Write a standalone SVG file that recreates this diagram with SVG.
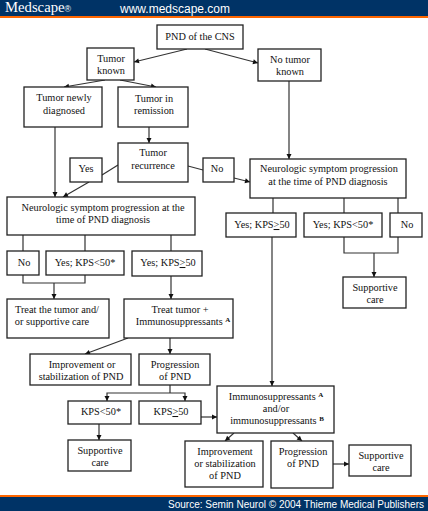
<svg xmlns="http://www.w3.org/2000/svg" width="428" height="511" viewBox="0 0 428 511">
<style>
.b{fill:#fff;stroke:#222;stroke-width:1.3}
.l{fill:none;stroke:#333;stroke-width:1.2}
.t{font-family:"Liberation Serif",serif;font-size:10.3px;fill:#111;text-anchor:middle}
.s{font-size:7px;font-weight:bold}
.w{font-family:"Liberation Sans",sans-serif;fill:#fff}
</style>
<defs><marker id="a" markerWidth="6" markerHeight="6" refX="5" refY="2.5" orient="auto" markerUnits="userSpaceOnUse" overflow="visible"><path d="M0 0L5 2.5L0 5z" fill="#111"/></marker></defs>
<rect width="428" height="511" fill="#fff"/>
<g id="header"><rect width="428" height="16" fill="#003366"/><rect y="16" width="428" height="2" fill="#ff6600"/>
<text class="w" x="5" y="12" style="font-family:'Liberation Serif',serif;font-size:15px" textLength="66" lengthAdjust="spacingAndGlyphs">Medscape<tspan font-size="9" font-family="Liberation Sans">®</tspan></text>
<text class="w" x="120" y="13" font-size="12" textLength="110" lengthAdjust="spacingAndGlyphs">www.medscape.com</text></g>
<g id="footer"><rect y="495" width="428" height="2" fill="#ff6600"/><rect y="497" width="428" height="14" fill="#003366"/>
<text class="w" x="168" y="507.5" font-size="10" textLength="256" lengthAdjust="spacingAndGlyphs">Source: Semin Neurol © 2004 Thieme Medical Publishers</text></g>
<g id="connectors">
<path class="l" marker-end="url(#a)" d="M187 49L134 62"/>
<path class="l" marker-end="url(#a)" d="M205 49L258 63"/>
<path class="l" marker-end="url(#a)" d="M105 80L64 87"/>
<path class="l" marker-end="url(#a)" d="M120 80L156 87"/>
<path class="l" marker-end="url(#a)" d="M289 81V159"/>
<path class="l" marker-end="url(#a)" d="M149 127V143"/>
<path class="l" marker-end="url(#a)" d="M55 127V197"/>
<path class="l" d="M118 165L102 175"/>
<path class="l" marker-end="url(#a)" d="M89 182L63 197"/>
<path class="l" d="M188 166L203 170"/>
<path class="l" marker-end="url(#a)" d="M234 178L250 182"/>
<path class="l" d="M23 235V251M85 235V251M171 235V251"/>
<path class="l" d="M23 275V283H85V275"/>
<path class="l" marker-end="url(#a)" d="M54 283V299"/>
<path class="l" marker-end="url(#a)" d="M171 276V299"/>
<path class="l" marker-end="url(#a)" d="M170 338V354"/>
<path class="l" marker-end="url(#a)" d="M128 338L85 354"/>
<path class="l" d="M273 198V213M344 198V213M398 198V213"/>
<path class="l" d="M344 237V253H398V237"/>
<path class="l" marker-end="url(#a)" d="M374 253V277"/>
<path class="l" marker-end="url(#a)" d="M272 237V386"/>
<path class="l" d="M170 385V393"/>
<path class="l" marker-end="url(#a)" d="M170 393H107V401"/>
<path class="l" marker-end="url(#a)" d="M170 393H185V401"/>
<path class="l" marker-end="url(#a)" d="M99 424V440"/>
<path class="l" marker-end="url(#a)" d="M201 417H217"/>
<path class="l" marker-end="url(#a)" d="M234 433L225 441"/>
<path class="l" marker-end="url(#a)" d="M293 433L302 441"/>
<path class="l" marker-end="url(#a)" d="M333 464H349"/>
</g>
<g id="n1"><rect class="b" x="157" y="25" width="86" height="24"/><text class="t" x="200" y="40">PND of the CNS</text></g>
<g id="n2"><rect class="b" x="87" y="48" width="47" height="32"/><text class="t" x="111" y="62">Tumor</text><text class="t" x="111" y="74">known</text></g>
<g id="n3"><rect class="b" x="258" y="49" width="63" height="32"/><text class="t" x="290" y="63">No tumor</text><text class="t" x="290" y="75">known</text></g>
<g id="n4"><rect class="b" x="24" y="87" width="78" height="40"/><text class="t" x="64" y="101">Tumor newly</text><text class="t" x="64" y="114">diagnosed</text></g>
<g id="n5"><rect class="b" x="118" y="87" width="70" height="40"/><text class="t" x="154" y="102">Tumor in</text><text class="t" x="154" y="114">remission</text></g>
<g id="n6"><rect class="b" x="118" y="143" width="70" height="39"/><text class="t" x="153" y="156">Tumor</text><text class="t" x="153" y="169">recurrence</text></g>
<g id="n7"><rect class="b" x="70" y="158" width="32" height="24"/><text class="t" x="86" y="172">Yes</text></g>
<g id="n8"><rect class="b" x="203" y="158" width="31" height="24"/><text class="t" x="217" y="172">No</text></g>
<g id="n9"><rect class="b" x="250" y="159" width="156" height="39"/><text class="t" x="329" y="172">Neurologic symptom progression</text><text class="t" x="328" y="185">at the time of PND diagnosis</text></g>
<g id="n10"><rect class="b" x="7" y="197" width="188" height="38"/><text class="t" x="103" y="211">Neurologic symptom progression at the</text><text class="t" x="103" y="223">time of PND diagnosis</text></g>
<g id="n11"><rect class="b" x="7" y="251" width="32" height="24"/><text class="t" x="24" y="266">No</text></g>
<g id="n12"><rect class="b" x="46" y="251" width="78" height="24"/><text class="t" x="85" y="266">Yes; KPS&lt;50*</text></g>
<g id="n13"><rect class="b" x="132" y="251" width="70" height="25"/><text class="t" x="168" y="266">Yes; KPS<tspan text-decoration="underline">&gt;</tspan>50</text></g>
<g id="n14"><rect class="b" x="7" y="299" width="102" height="39"/><text class="t" x="57" y="313">Treat the tumor and/</text><text class="t" x="52" y="325">or supportive care</text></g>
<g id="n15"><rect class="b" x="124" y="299" width="109" height="39"/><text class="t" x="180" y="313">Treat tumor +</text><text class="t" x="183" y="325">Immunosuppressants <tspan class="s" dy="-3">A</tspan></text></g>
<g id="n16"><rect class="b" x="226" y="213" width="70" height="24"/><text class="t" x="262" y="228">Yes; KPS<tspan text-decoration="underline">&gt;</tspan>50</text></g>
<g id="n17"><rect class="b" x="304" y="213" width="78" height="24"/><text class="t" x="343" y="228">Yes; KPS&lt;50*</text></g>
<g id="n18"><rect class="b" x="390" y="213" width="32" height="24"/><text class="t" x="407" y="228">No</text></g>
<g id="n19"><rect class="b" x="343" y="277" width="63" height="31"/><text class="t" x="375" y="291">Supportive</text><text class="t" x="375" y="303">care</text></g>
<g id="n20"><rect class="b" x="30" y="354" width="101" height="31"/><text class="t" x="82" y="368">Improvement or</text><text class="t" x="81" y="380">stabilization of PND</text></g>
<g id="n21"><rect class="b" x="139" y="354" width="71" height="31"/><text class="t" x="175" y="368">Progression</text><text class="t" x="175" y="380">of PND</text></g>
<g id="n22"><rect class="b" x="68" y="401" width="63" height="23"/><text class="t" x="101" y="415">KPS&lt;50*</text></g>
<g id="n23"><rect class="b" x="139" y="401" width="62" height="23"/><text class="t" x="171" y="415">KPS<tspan text-decoration="underline">&gt;</tspan>50</text></g>
<g id="n24"><rect class="b" x="68" y="440" width="63" height="31"/><text class="t" x="100" y="454">Supportive</text><text class="t" x="100" y="466">care</text></g>
<g id="n25"><rect class="b" x="217" y="386" width="117" height="47"/><text class="t" x="276" y="400">Immunosuppressants <tspan class="s" dy="-3">A</tspan></text><text class="t" x="276" y="412">and/or</text><text class="t" x="277" y="424">immunosuppressants <tspan class="s" dy="-3">B</tspan></text></g>
<g id="n26"><rect class="b" x="185" y="441" width="78" height="46"/><text class="t" x="225" y="455">Improvement</text><text class="t" x="225" y="467">or stabilization</text><text class="t" x="225" y="479">of PND</text></g>
<g id="n27"><rect class="b" x="271" y="441" width="62" height="47"/><text class="t" x="303" y="455">Progression</text><text class="t" x="303" y="467">of PND</text></g>
<g id="n28"><rect class="b" x="349" y="445" width="62" height="31"/><text class="t" x="381" y="459">Supportive</text><text class="t" x="381" y="471">care</text></g>
</svg>
